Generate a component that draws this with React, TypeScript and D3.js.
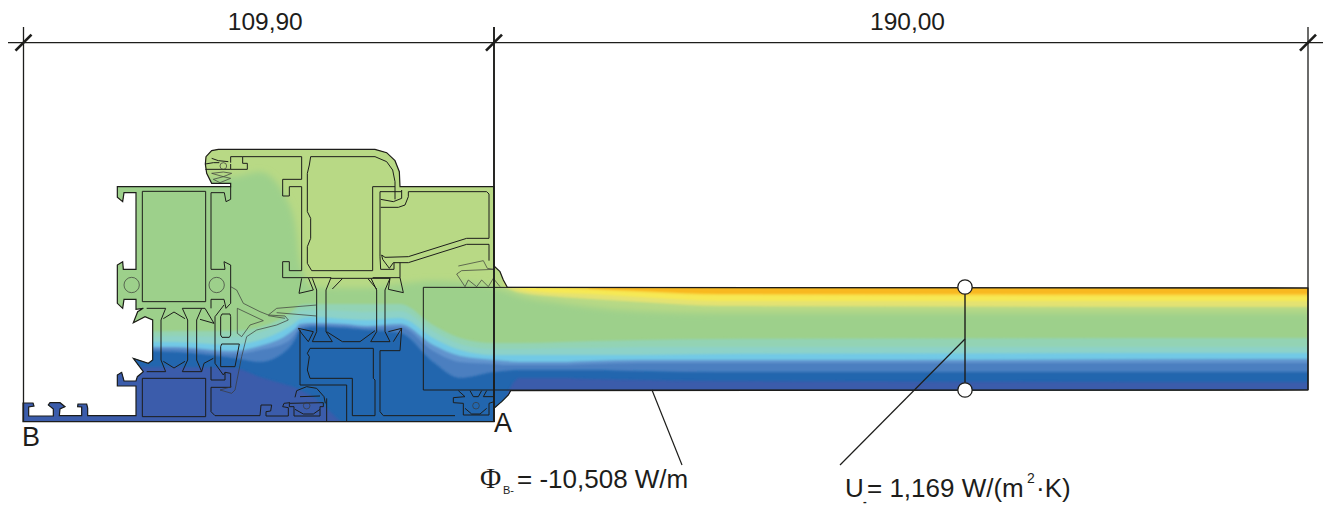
import React from "react";
import * as d3 from "d3";

type P = [number, number];

// ---- dimensions (mm)
const dimStops = [0, 109.9, 299.9];
const dimLabels = ["109,90", "190,00"];

// ---- temperature field: isotherm depth at each station of the section
const stations = [20, 100, 135, 175, 233, 260, 287, 296, 300, 313, 345, 367, 400, 433, 460, 494, 505, 520, 560, 590, 640, 720, 1310];
const bandColors = ["#f9d33e", "#f6e955", "#e4e272", "#b8d985", "#9dd08b", "#93d3b4", "#8dd2c8", "#72c9e6", "#6294ce", "#4c7fc0", "#2166ae", "#3b5cab"];
const iso1 = [100, 100, 100, 100, 100, 100, 100, 100, 100, 100, 100, 100, 100, 100, 100, 100, 100, 100, 100, 289, 291, 294, 294];
const iso2 = [100, 100, 100, 100, 100, 100, 100, 100, 100, 100, 100, 100, 100, 100, 100, 100, 100, 286, 288, 289.5, 292, 295, 296];
const iso3 = [100, 100, 100, 100, 100, 100, 100, 100, 100, 100, 100, 100, 100, 100, 100, 100, 100, 289, 293, 294, 297, 301, 301];
const iso4 = [100, 100, 100, 100, 100, 100, 100, 100, 100, 100, 100, 100, 100, 100, 100, 135, 286, 293, 297, 299, 302, 306, 307];
const iso5 = [178, 178, 178, 178, 177, 172, 200, 230, 262, 287, 288, 288, 284, 281, 282, 287, 291, 296, 303, 307, 311, 313, 313];
const iso6 = [332, 332, 332, 331, 331, 327, 315, 308, 305, 304, 304, 304, 304, 325, 338, 343, 343, 343, 342, 341, 340, 339, 338];
const iso7 = [338, 338, 338, 336, 337, 332, 320, 314, 311, 310, 311, 312, 311, 331, 344, 349, 349, 349, 348, 348, 347, 347, 347];
const iso8 = [342, 342, 342, 342, 345, 340, 328, 322, 319, 317, 319, 320, 318, 338, 350, 355, 355, 355, 355, 355, 355, 354, 353];
const iso9 = [347, 347, 347, 347, 351, 346, 335, 328, 324, 323, 324, 326, 324, 345, 356, 360, 361, 362, 362, 361, 360, 360, 359];
const iso10 = [349, 349, 349, 349, 354, 350, 342, 333, 327, 325, 326, 328, 327, 351, 362, 364, 365, 365, 365, 364, 363, 363, 363];
const iso11 = [351, 351, 351, 352, 358, 362, 350, 338, 330, 327, 328, 330, 333, 362, 378, 372, 371, 370, 370, 370, 371, 372, 372];
const iso12 = [367, 367, 367, 367, 368, 377, 385, 388, 390, 397, 425, 440, 440, 440, 440, 440, 400, 378, 378, 379, 380, 381, 382];
const isotherms = [iso1, iso2, iso3, iso4, iso5, iso6, iso7, iso8, iso9, iso10, iso11, iso12];

// ---- section geometry in drawing units
const silhouette: P[] = [
  [316, 72], [318, 50], [335, 32], [355, 28], [825, 28], [860, 38], [885, 62], [898, 95], [900, 140], [1182, 140], [1182, 378], [1200, 395], [1210, 420], [1222, 442],
  [3624, 444], [3624, 750], [1232, 752], [1225, 765], [1205, 785], [1182, 805], [1182, 845], [-231, 845], [-231, 789], [-201, 789], [-198, 798], [-214, 801], [-214, 828],
  [-140, 828], [-140, 807], [-155, 795], [-150, 788], [-120, 788], [-105, 800], [-120, 807], [-122, 827], [-55, 827], [-55, 801], [-67, 800], [-66, 792], [-40, 792], [-37, 804], [-37, 827],
  [108, 827], [108, 738], [52, 738], [52, 705], [65, 697], [72, 723], [108, 723], [112, 710], [130, 695], [100, 655], [145, 670], [158, 660], [158, 540], [135, 530], [100, 548], [113, 515], [130, 505],
  [108, 508], [108, 478], [72, 478], [68, 505], [52, 490], [52, 375], [68, 365], [70, 388], [108, 388], [108, 158], [72, 158], [68, 185], [52, 172], [52, 140], [392, 140], [392, 130], [335, 130], [320, 100],
];
const outlineLines: P[][] = [
  [[127, 154], [317, 154], [317, 485], [127, 485], [127, 154]],
  [[392, 140], [392, 178], [378, 185], [373, 158], [333, 158], [333, 388], [375, 388], [372, 365], [392, 375], [392, 490], [378, 505], [372, 478], [333, 478], [333, 505]],
  [[140, 505], [197, 505], [183, 540], [183, 660], [197, 695], [140, 695]],
  [[247, 505], [305, 505], [290, 540], [290, 660], [305, 695], [247, 695], [263, 660], [263, 540], [247, 505]],
  [[190, 536], [222, 516], [255, 536]],
  [[190, 664], [222, 684], [255, 664]],
  [[305, 505], [315, 505], [342, 550], [300, 538]],
  [[305, 695], [312, 670], [340, 655]],
  [[372, 495], [345, 530], [345, 670], [370, 705], [375, 697]],
  [[366, 522], [390, 522], [392, 530], [392, 585], [388, 592], [366, 592], [362, 585], [362, 530], [366, 522]],
  [[365, 612], [418, 612], [405, 680], [362, 680], [362, 620], [365, 612]],
  [[127, 715], [317, 715], [317, 830], [127, 830], [127, 715]],
  [[333, 680], [333, 720], [375, 720], [375, 697], [392, 700], [392, 742], [333, 742], [333, 815], [345, 827], [480, 827], [483, 795], [515, 795], [512, 813], [498, 815], [498, 828], [565, 828], [565, 803], [548, 800], [552, 790], [570, 788]],
  [[428, 50], [605, 50], [605, 118], [548, 118], [548, 168], [568, 168], [568, 140], [605, 140], [605, 392], [568, 392], [568, 365], [548, 365], [548, 413], [625, 413], [640, 450], [597, 460], [605, 415]],
  [[392, 68], [392, 50], [428, 50], [428, 70], [442, 70], [442, 88], [392, 88], [392, 72]],
  [[316, 72], [340, 68], [358, 68]], [[316, 88], [392, 88]], [[335, 55], [355, 62], [385, 65]],
  [[632, 50], [825, 50], [860, 65], [878, 90], [885, 125], [885, 178]],
  [[632, 50], [628, 75], [622, 100], [622, 215], [632, 235], [632, 295], [622, 320], [622, 370], [635, 392], [818, 392], [818, 140], [885, 140]],
  [[840, 155], [905, 155]], [[840, 155], [840, 350]], [[925, 155], [1160, 155], [1167, 162], [1167, 295], [1100, 295], [1020, 320], [925, 350], [855, 352], [845, 345]],
  [[1167, 313], [1100, 313], [1020, 338], [925, 368], [880, 368], [868, 385], [848, 358], [845, 345]], [[1167, 313], [1167, 362]],
  [[925, 155], [925, 170], [915, 195], [895, 202], [842, 202]], [[842, 178], [880, 185], [905, 175], [905, 150]],
  [[840, 350], [842, 388], [882, 388], [882, 368]],
  [[625, 413], [693, 413], [678, 450], [678, 575], [697, 605], [637, 605], [650, 575], [650, 450], [637, 415]],
  [[693, 415], [728, 415], [697, 447]], [[728, 415], [803, 415], [830, 447]],
  [[803, 415], [870, 415], [855, 450], [855, 575], [870, 605], [812, 605], [830, 575], [830, 450], [813, 415]],
  [[818, 413], [900, 413], [910, 458], [865, 448], [870, 415]], [[900, 368], [900, 413]],
  [[680, 575], [727, 605], [780, 605], [825, 572]],
  [[595, 565], [640, 575], [625, 605], [605, 580], [595, 565]], [[865, 575], [905, 565], [880, 605]],
  [[600, 570], [600, 735], [740, 735], [740, 845]],
  [[630, 625], [820, 625], [820, 715], [825, 720], [825, 827], [757, 827], [757, 715], [630, 715], [622, 690], [628, 650], [622, 640], [630, 625]],
  [[905, 565], [900, 632], [840, 632], [840, 815], [850, 827], [1065, 827]],
  [[680, 775], [680, 845]],
  [[585, 772], [590, 752], [620, 740], [650, 745], [672, 770], [676, 790]], [[600, 770], [660, 768]],
  [[568, 790], [670, 788], [670, 800], [660, 800], [660, 828], [582, 828], [582, 800], [568, 800], [568, 790]],
  [[585, 808], [610, 822], [640, 822], [660, 808]],
  [[1075, 752], [1095, 770], [1060, 773], [1060, 788], [1090, 790], [1090, 825], [1167, 825], [1167, 790], [1182, 785]],
  [[1110, 752], [1120, 770], [1135, 770], [1145, 752]], [[1160, 752], [1150, 770], [1182, 770]],
  [[1095, 805], [1115, 822], [1140, 822], [1160, 805]],
  [[970, 442], [3624, 444]], [[970, 442], [970, 750], [3624, 750]],
];
const sealLines: P[][] = [
  [[392, 440], [410, 450], [430, 490], [480, 515], [505, 525], [555, 528], [565, 540], [530, 555], [470, 570], [440, 590], [425, 650], [405, 750], [395, 760], [360, 750], [395, 740]],
  [[412, 505], [490, 542], [450, 555], [425, 590], [412, 580], [412, 505]],
  [[505, 525], [530, 505], [650, 495]], [[530, 518], [650, 528]], [[505, 527], [555, 535]],
  [[1075, 378], [1150, 362], [1162, 385], [1182, 388], [1085, 392], [1070, 402], [1095, 440], [1105, 420], [1130, 440], [1145, 420], [1165, 440], [1180, 415], [1200, 440]],
  [[335, 100], [370, 96], [395, 100], [370, 110], [335, 100]], [[340, 118], [370, 110], [392, 115], [360, 128], [340, 118]],
];
const roundMarks: [number, number, number][] = [[95, 435, 23], [350, 435, 23], [370, 78, 10], [620, 797, 10], [1128, 797, 10]];

// ---- measurement annotations
const uProbeStops = [287, 390];
const uProbeX = 965;
const uLeader: P[] = [[965, 339], [840, 465]];
const phiLeader: P[] = [[652, 390], [682, 465]];

export default function App() {
  const mm = d3.scaleLinear().domain(dimStops).range([23.5, 494, 1308]);
  const ux = d3.scaleLinear().domain([0, 1260]).range([100, 520]);
  const uy = d3.scaleLinear().domain([0, 900]).range([140, 440]);
  const line = d3.line<P>().x((d) => ux(d[0])).y((d) => uy(d[1]));
  const pagePath = d3.line<P>();
  const band = (iso: number[]) =>
    d3.area<number>().x((_, i) => stations[i]).y0(470).y1((d) => d).curve(d3.curveMonotoneX)(iso) as string;
  const sil = (line(silhouette) as string) + "Z";
  const ink = "#1d1d1b";
  const font = "'Liberation Sans', Arial, sans-serif";
  const dimY = 42.7;
  const bottoms = [422, 422, 390];
  const widths = [1.3, 1.9, 1.3];

  return (
    <svg width={1330} height={508} viewBox="0 0 1330 508" style={{ position: "absolute", left: 0, top: 0, display: "block", background: "#fff" }}>
      <defs>
        <clipPath id="sec"><path d={sil} /></clipPath>
        <filter id="soft" x="-5%" y="-5%" width="110%" height="110%"><feGaussianBlur stdDeviation="0.9" /></filter>
        <filter id="softer" x="-5%" y="-5%" width="110%" height="110%"><feGaussianBlur stdDeviation="3.2" /></filter>
      </defs>
      <g clipPath="url(#sec)">
        <rect x={0} y={90} width={1330} height={390} fill="#f8b820" />
        {isotherms.map((iso, i) => <path key={i} d={band(iso)} fill={bandColors[i]} filter={i === 4 ? "url(#softer)" : "url(#soft)"} />)}
      </g>
      <path d={sil} fill="none" stroke={ink} strokeWidth={1.2} />
      <g fill="none" stroke={ink} strokeWidth={1}>
        {outlineLines.map((l, i) => <path key={i} d={line(l) as string} />)}
      </g>
      <g fill="none" stroke="#3a3a38" strokeWidth={0.7}>
        {sealLines.map((l, i) => <path key={i} d={line(l) as string} />)}
        {roundMarks.map((c, i) => <circle key={i} cx={ux(c[0])} cy={uy(c[1])} r={(ux(c[2]) - ux(0))} />)}
      </g>

      <line x1={8} x2={1323} y1={dimY} y2={dimY} stroke={ink} strokeWidth={1.2} />
      {dimStops.map((s, i) => {
        const x = mm(s);
        return (
          <g key={i} stroke={ink}>
            <line x1={x} x2={x} y1={27} y2={bottoms[i]} strokeWidth={widths[i]} />
            <line x1={x - 8} x2={x + 8} y1={dimY + 8} y2={dimY - 8} strokeWidth={2.6} />
          </g>
        );
      })}
      {dimLabels.map((t, i) => (
        <text key={t} x={(mm(dimStops[i]) + mm(dimStops[i + 1])) / 2 + 6.5} y={30} textAnchor="middle" fontFamily={font} fontSize={24.5} fill={ink}>{t}</text>
      ))}

      <text x={22} y={446} fontFamily={font} fontSize={27} fill={ink}>B</text>
      <text x={494} y={432} fontFamily={font} fontSize={27} fill={ink}>A</text>

      <path d={pagePath(phiLeader) as string} stroke={ink} strokeWidth={1.2} fill="none" />
      <path d={pagePath(uLeader) as string} stroke={ink} strokeWidth={1.2} fill="none" />
      <line x1={uProbeX} x2={uProbeX} y1={uProbeStops[0]} y2={uProbeStops[1]} stroke={ink} strokeWidth={1.4} />
      {uProbeStops.map((y) => <circle key={y} cx={uProbeX} cy={y} r={7.2} fill="#fff" stroke={ink} strokeWidth={1.3} />)}

      <text x={480} y={488} fontFamily="'Liberation Serif', serif" fontSize={29} fill={ink}>Φ</text>
      <text x={503} y={494} fontFamily={font} fontSize={11} fill={ink}>B-</text>
      <text x={517} y={488} fontFamily={font} fontSize={26} fill={ink}>= -10,508 W/m</text>
      <text x={845} y={497} fontFamily={font} fontSize={26} fill={ink}>U</text>
      <text x={863} y={504.5} fontFamily={font} fontSize={11} fontWeight={700} fill={ink}>-</text>
      <text x={867} y={497} fontFamily={font} fontSize={26} fill={ink}>= 1,169 W/(m</text>
      <text x={1027} y={483} fontFamily={font} fontSize={14} fill={ink}>2</text>
      <text x={1036} y={497} fontFamily={font} fontSize={26} fill={ink}>·K)</text>
    </svg>
  );
}
